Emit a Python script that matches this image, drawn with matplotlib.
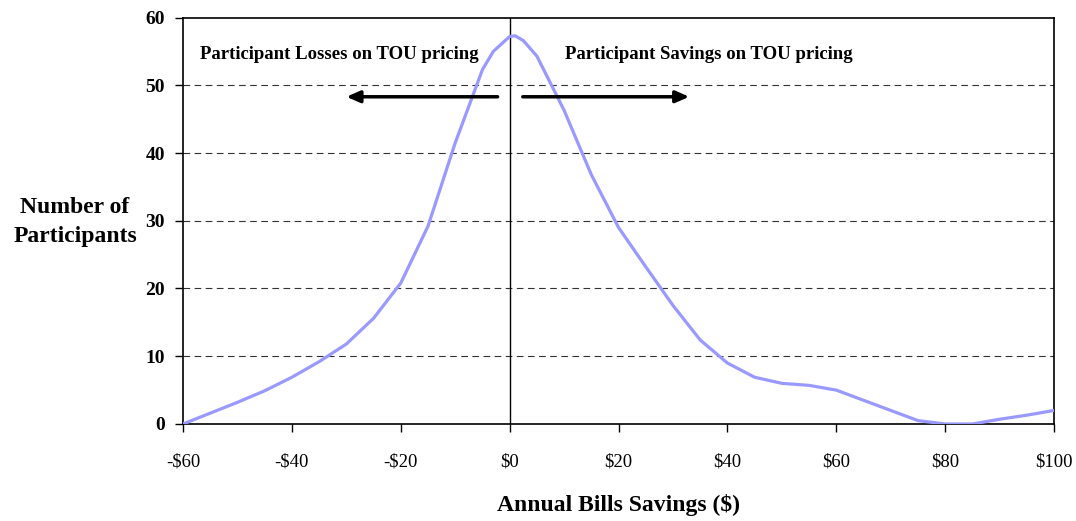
import matplotlib.pyplot as plt

# Annual savings ($) and number of participants
savings = [-60, -55, -50, -45, -40, -35, -30, -25, -20, -15, -10, -5, -3, 0, 1, 2.5, 5,
           10, 15, 20, 25, 30, 35, 40, 45, 50, 55, 60, 65, 70, 75, 80, 85, 90, 95, 100]
participants = [0, 1.6, 3.2, 4.9, 6.9, 9.2, 11.8, 15.6, 20.8, 29.2, 41.5, 52.3, 55.0, 57.2, 57.3, 56.6, 54.3,
                46.3, 36.8, 29.0, 23.2, 17.5, 12.4, 9.0, 6.9, 6.0, 5.7, 5.0, 3.5, 2.0, 0.5, 0, 0, 0.7, 1.3, 2.0]

x_ticks = [-60, -40, -20, 0, 20, 40, 60, 80, 100]
x_tick_labels = ['-$60', '-$40', '-$20', '$0', '$20', '$40', '$60', '$80', '$100']
y_ticks = [0, 10, 20, 30, 40, 50, 60]

plt.rcParams['font.family'] = ['Liberation Serif', 'DejaVu Serif']

fig = plt.figure(figsize=(10.76, 5.21), dpi=100)
ax = fig.add_axes([0.1701, 0.1862, 0.8095, 0.7802])

# dashed horizontal gridlines
for y in y_ticks[1:-1]:
    ax.axhline(y, color='#333333', linestyle=(0, (6, 4)), linewidth=0.8, zorder=1)

# zero line
ax.axvline(0, color='black', linewidth=1.0, zorder=2)

# distribution curve
ax.plot(savings, participants, color='#9999ff', linewidth=2.3, zorder=3)

# arrows
ax.annotate('', xy=(-30.5, 48.3), xytext=(-1.7, 48.3),
            arrowprops=dict(arrowstyle='-|>,head_length=0.8,head_width=0.35', color='black', lw=2.5))
ax.annotate('', xy=(33.5, 48.3), xytext=(1.9, 48.3),
            arrowprops=dict(arrowstyle='-|>,head_length=0.8,head_width=0.35', color='black', lw=2.5))

ax.text(-56.9, 54.6, 'Participant Losses on TOU pricing', fontsize=13.5, fontweight='bold', va='center', ha='left')
ax.text(10.1, 54.6, 'Participant Savings on TOU pricing', fontsize=13.5, fontweight='bold', va='center', ha='left')

ax.set_xlim(-60, 100)
ax.set_ylim(0, 60)
ax.set_xticks(x_ticks)
ax.set_xticklabels(x_tick_labels, fontsize=13.5)
ax.set_yticks(y_ticks)
ax.set_yticklabels([str(v) for v in y_ticks], fontsize=14, fontweight='bold')
ax.tick_params(axis='both', direction='out', length=6, width=1)
ax.tick_params(axis='x', pad=15)
ax.tick_params(axis='y', pad=7)
for s in ax.spines.values():
    s.set_linewidth(1.2)

ax.set_xlabel('Annual Bills Savings ($)', fontsize=17, fontweight='bold', labelpad=17)
fig.text(0.0697, 0.574, 'Number of\nParticipants', fontsize=17, fontweight='bold',
         ha='center', va='center', linespacing=1.45)

fig.savefig('out.png', dpi=100)
